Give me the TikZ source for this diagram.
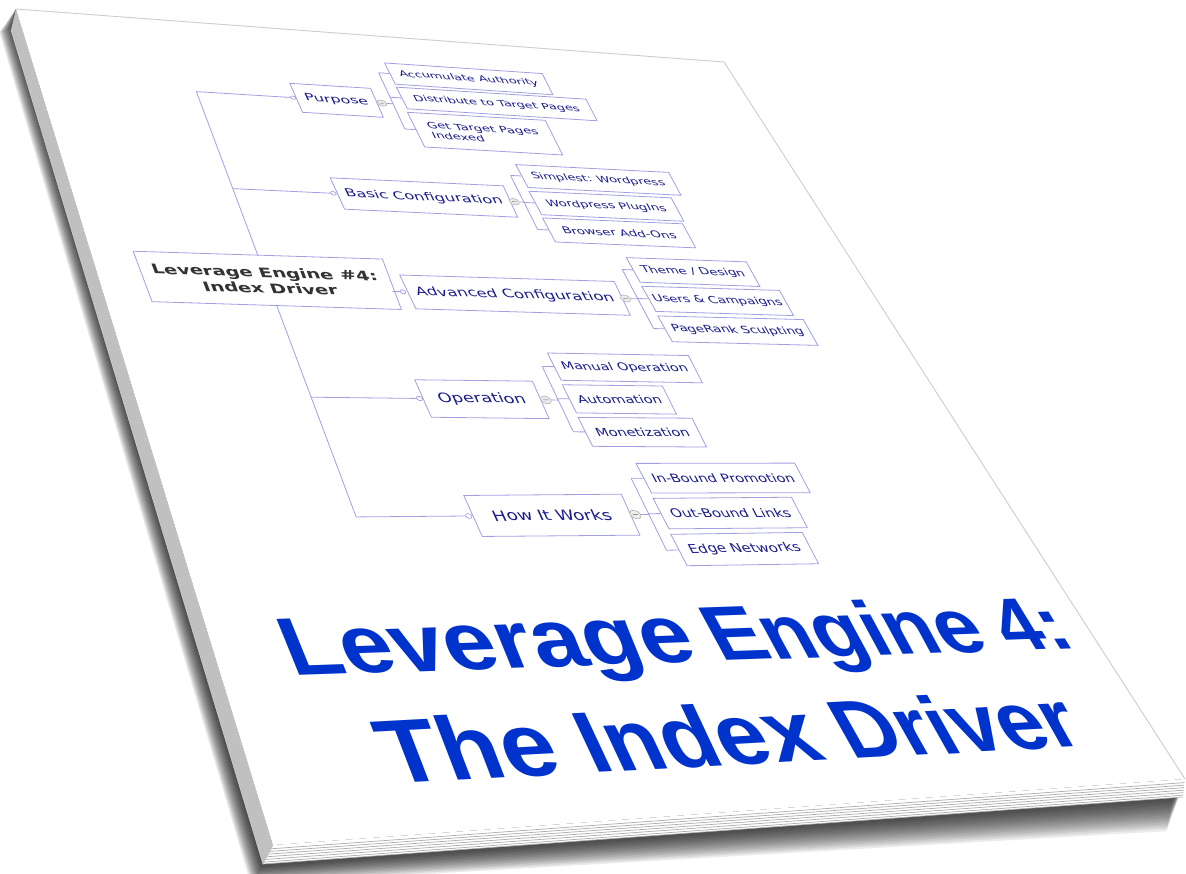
\documentclass[tikz,border=0pt]{standalone}
\usepackage{fontspec}
\setmainfont{DejaVu Sans}
\newfontfamily\titlefont[FakeStretch=0.94]{Liberation Sans}
\usetikzlibrary{calc}

\definecolor{mapline}{RGB}{160,160,225}
\definecolor{maptext}{RGB}{28,28,140}
\definecolor{roottext}{RGB}{51,51,51}
\definecolor{titleblue}{RGB}{0,51,204}
\definecolor{spinegray}{RGB}{192,192,192}
\definecolor{edgegray}{RGB}{205,205,205}

% homography: flat page (850 x 1100, y down) -> image pixels (y down)
\def\Ha{800.73}\def\Hb{175.99}\def\Hc{16}\def\Hd{59.94}\def\He{592.99}\def\Hf{10}
\def\Hg{0.12808}\def\Hh{(-0.28893)}
\newcommand\pmap[2]{%
  \pgfmathsetmacro\pmU{(#1)/850}%
  \pgfmathsetmacro\pmV{(#2)/1100}%
  \pgfmathsetmacro\pmW{\Hg*\pmU+\Hh*\pmV+1}%
  \pgfmathsetmacro\pmX{(\Ha*\pmU+\Hb*\pmV+\Hc)/\pmW}%
  \pgfmathsetmacro\pmY{(\Hd*\pmU+\He*\pmV+\Hf)/\pmW}}
\newcommand\pjac{%
  \pgfmathsetmacro\cmA{(\Ha-\Hg*\pmX)/(\pmW*850)}%
  \pgfmathsetmacro\cmC{-(\Hb-\Hh*\pmX)/(\pmW*1100)}%
  \pgfmathsetmacro\cmB{-(\Hd-\Hg*\pmY)/(\pmW*850)}%
  \pgfmathsetmacro\cmD{(\He-\Hh*\pmY)/(\pmW*1100)}}
\def\pgparse#1,#2\pgend{\pmap{#1}{#2}\pgfpoint{\pmX pt}{-\pmY pt}}
\tikzdeclarecoordinatesystem{pg}{\pgparse#1\pgend}
\newcommand\pnode[5][]{%
  \pmap{#3}{#4}\pjac
  \begin{scope}[cm={\cmA,\cmB,\cmC,\cmD,(\pmX pt,-\pmY pt)}]
    \node[transform shape,#1] (#2) at (0,0) {#5};
  \end{scope}}

\newcommand\tfont{\titlefont\bfseries\fontsize{90}{90}\selectfont}
\newcommand\foldbar{\textcolor{gray!80!black}{\rule{5pt}{0.7pt}}}

\tikzset{
  mapbox/.style={draw=mapline, line width=0.8pt, fill=white, inner sep=0pt, align=center, text=maptext},
  rootbox/.style={mapbox, minimum width=252pt, minimum height=75pt, text=roottext,
    font=\bfseries\fontsize{19.5}{23.5}\selectfont},
  topicbox/.style={mapbox, minimum height=52pt, font=\fontsize{18}{21}\selectfont},
  leafbox/.style={mapbox, minimum height=40pt, font=\fontsize{15.5}{18.5}\selectfont},
  knob/.style={circle, draw=mapline, fill=white, line width=0.7pt, minimum size=6pt, inner sep=0pt},
  fold/.style={circle, draw=gray!60, fill=gray!15, line width=0.6pt, minimum size=11pt, inner sep=0pt},
  conn/.style={draw=mapline, line width=0.8pt},
  titleword/.style={inner sep=0pt, anchor=base, text=titleblue, font=\tfont},
}

\begin{document}
\begin{tikzpicture}
\useasboundingbox (0,0) rectangle (1186pt,-874pt);

% ---------- the book (image pixel coordinates) ----------
\begin{scope}[x=1pt,y=-1pt]
  \foreach \k in {1,...,14}{
    \fill[black,opacity=0.08] (16,9) -- ({12-0.9*\k},{28+0.3*\k}) -- ({262-0.8*\k},{866+1.3*\k})
      -- ({1172-0.4*\k},{799+2.3*\k}) -- (1185,779) -- cycle;}
  \fill[spinegray] (16,9) -- (273,845) -- (263,864) -- (11,30) -- cycle;
  \draw[gray!40, line width=0.6pt] (11,30) -- (263,864);
  \fill[white] (273,845) -- (1185,779) -- (1183,797) -- (263,864) -- cycle;
  \foreach \t in {0.2,0.34,0.48,0.62,0.76,0.9}{
    \draw[gray!65, line width=0.7pt] ($(273,845)!\t!(263,864)$) -- ($(1185,779)!\t!(1183,797)$);}
  \draw[gray!60, line width=0.6pt] (263,864) -- (1183,797);
  \draw[gray!50, line width=0.5pt] (273,845) -- (263,864);
  \fill[white] (16,9) -- (724,62) -- (1185,779) -- (273,845) -- cycle;
  \draw[edgegray, line width=0.9pt] (16,9) -- (724,62) -- (1185,779);
\end{scope}

% ---------- mind map nodes (flat page coordinates) ----------
\pnode[rootbox]{root}{168}{433.5}{Leverage Engine \#4:\\Index Driver}

\pnode[topicbox,minimum width=92pt]{purpose}{324}{128}{Purpose}
\pnode[topicbox,minimum width=193pt]{basic}{374.5}{291.5}{Basic Configuration}
\pnode[topicbox,minimum width=235pt]{advanced}{425.5}{444.5}{Advanced Configuration}
\pnode[topicbox,minimum width=121pt]{operation}{338.5}{599}{Operation}
\pnode[topicbox,minimum width=157pt]{hiw}{356.5}{753}{How It Works}

\pnode[knob]{kpurpose}{275}{128}{}
\pnode[knob]{kbasic}{275}{291.5}{}
\pnode[knob]{kadvanced}{305}{444.5}{}
\pnode[knob]{koperation}{275}{599}{}
\pnode[knob]{khiw}{275}{753}{}

\pnode[fold]{fpurpose}{376}{128}{\foldbar}
\pnode[fold]{fbasic}{477}{291.5}{\foldbar}
\pnode[fold]{fadvanced}{549}{444.5}{\foldbar}
\pnode[fold]{foperation}{405}{599}{\foldbar}
\pnode[fold]{fhiw}{441}{753}{\foldbar}

\pnode[leafbox,minimum width=191pt]{aa}{496.5}{71}{Accumulate Authority}
\pnode[leafbox,minimum width=229pt]{dist}{515.5}{116}{Distribute to Target Pages}
\pnode[leafbox,minimum width=163pt,minimum height=62pt,align=left]{gt}{482.5}{173}{Get Target Pages\\Indexed}
\pnode[leafbox,minimum width=184pt]{simp}{592}{246}{Simplest: Wordpress}
\pnode[leafbox,minimum width=169pt]{plug}{584.5}{292}{Wordpress PlugIns}
\pnode[leafbox,minimum width=165pt]{brow}{582.5}{337}{Browser Add-Ons}
\pnode[leafbox,minimum width=142pt]{theme}{646}{398}{Theme / Design}
\pnode[leafbox,minimum width=162pt]{users}{656}{444}{Users \& Campaigns}
\pnode[leafbox,minimum width=170pt]{prs}{660}{490.5}{PageRank Sculpting}
\pnode[leafbox,minimum width=155pt]{manual}{507.5}{551}{Manual Operation}
\pnode[leafbox,minimum width=108pt]{automat}{484}{597}{Automation}
\pnode[leafbox,minimum width=122pt]{money}{491}{643}{Monetization}
\pnode[leafbox,minimum width=171pt]{inb}{552.5}{705.5}{In-Bound Promotion}
\pnode[leafbox,minimum width=147pt]{outb}{540.5}{752}{Out-Bound Links}
\pnode[leafbox,minimum width=138pt]{edgenet}{536}{798.5}{Edge Networks}

% ---------- connectors ----------
\coordinate (t1) at (pg cs:168,128);
\coordinate (t2) at (pg cs:168,291.5);
\coordinate (t4) at (pg cs:168,599);
\coordinate (t5) at (pg cs:168,753);
\coordinate (radv) at (pg cs:294,444.5);
\draw[conn] (t1) -- (root.north);
\draw[conn] (root.south) -- (t5);
\draw[conn] (t1) -- (kpurpose.west);
\draw[conn] (t2) -- (kbasic.west);
\draw[conn] (t4) -- (koperation.west);
\draw[conn] (t5) -- (khiw.west);
\draw[conn] (radv) -- (kadvanced.west);

% purpose
\draw[conn] (fpurpose.east) -- (pg cs:389,128);
\draw[conn] (pg cs:389,71) -- (pg cs:389,173);
\draw[conn] (pg cs:389,71) -- (aa.west);
\draw[conn] (pg cs:389,116) -- (dist.west);
\draw[conn] (pg cs:389,173) -- (gt.west);
% basic
\draw[conn] (fbasic.east) -- (pg cs:488,291.5);
\draw[conn] (pg cs:488,246) -- (pg cs:488,337);
\draw[conn] (pg cs:488,246) -- (simp.west);
\draw[conn] (pg cs:488,292) -- (plug.west);
\draw[conn] (pg cs:488,337) -- (brow.west);
% advanced
\draw[conn] (fadvanced.east) -- (pg cs:563,444.5);
\draw[conn] (pg cs:563,398) -- (pg cs:563,490.5);
\draw[conn] (pg cs:563,398) -- (theme.west);
\draw[conn] (pg cs:563,444) -- (users.west);
\draw[conn] (pg cs:563,490.5) -- (prs.west);
% operation
\draw[conn] (foperation.east) -- (pg cs:418,599);
\draw[conn] (pg cs:418,551) -- (pg cs:418,643);
\draw[conn] (pg cs:418,551) -- (manual.west);
\draw[conn] (pg cs:418,597) -- (automat.west);
\draw[conn] (pg cs:418,643) -- (money.west);
% how it works
\draw[conn] (fhiw.east) -- (pg cs:455,753);
\draw[conn] (pg cs:455,705.5) -- (pg cs:455,798.5);
\draw[conn] (pg cs:455,705.5) -- (inb.west);
\draw[conn] (pg cs:455,752) -- (outb.west);
\draw[conn] (pg cs:455,798.5) -- (edgenet.west);

% ---------- title (one node per word, each with its own local perspective) ----------
\pnode[titleword]{tw1}{242.8}{932}{Leverage}
\pnode[titleword]{tw2}{593.1}{932}{Engine}
\pnode[titleword]{tw3}{795.3}{932}{4:}
\pnode[titleword]{tw4}{188.7}{1046}{The}
\pnode[titleword]{tw5}{397.9}{1046}{Index}
\pnode[titleword]{tw6}{654.2}{1046}{Driver}
\end{tikzpicture}
\end{document}
